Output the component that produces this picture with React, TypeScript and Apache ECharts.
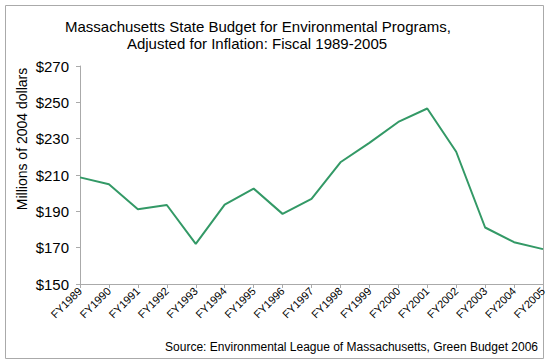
import React, { useEffect, useRef } from "react";
import * as echarts from "echarts";

const categories = [
  "FY1989", "FY1990", "FY1991", "FY1992", "FY1993", "FY1994", "FY1995", "FY1996", "FY1997",
  "FY1998", "FY1999", "FY2000", "FY2001", "FY2002", "FY2003", "FY2004", "FY2005",
];
const budget = [
  208.7, 204.9, 191.2, 193.5, 172.1, 193.7, 202.5, 188.6, 196.8,
  217.0, 227.7, 239.2, 246.6, 222.8, 181.1, 173.0, 169.2,
];
const yTicks = { min: 150, max: 270, interval: 20 };
const titleLines = [
  "Massachusetts State Budget for Environmental Programs,",
  "Adjusted for Inflation: Fiscal 1989-2005",
];
const yName = "Millions of 2004 dollars";
const sourceText = "Source: Environmental League of Massachusetts, Green Budget 2006";

const FONT = "Arial, 'Liberation Sans', sans-serif";

export default function App() {
  const ref = useRef<HTMLDivElement>(null);
  useEffect(() => {
    if (!ref.current) return;
    const chart = echarts.init(ref.current, null, { renderer: "svg" });
    chart.setOption({
      animation: false,
      backgroundColor: "#ffffff",
      grid: { left: 80, right: 7, top: 66, bottom: 78, containLabel: false },
      xAxis: {
        type: "category",
        data: categories,
        boundaryGap: false,
        axisLine: { show: true, lineStyle: { color: "#aaaaaa", width: 1 } },
        axisTick: { show: true, length: 4, lineStyle: { color: "#aaaaaa" } },
        axisLabel: {
          rotate: 45,
          interval: 0,
          margin: 5,
          color: "#000000",
          fontSize: 11,
          fontFamily: FONT,
        },
        splitLine: { show: false },
      },
      yAxis: {
        type: "value",
        min: yTicks.min,
        max: yTicks.max,
        interval: yTicks.interval,
        axisLine: { show: true, lineStyle: { color: "#aaaaaa", width: 1 } },
        axisTick: { show: true, length: 4, lineStyle: { color: "#aaaaaa" } },
        axisLabel: {
          formatter: (v: number) => "$" + v,
          color: "#000000",
          fontSize: 15,
          fontFamily: FONT,
          margin: 11,
        },
        splitLine: { show: false },
      },
      series: [
        {
          type: "line",
          data: budget,
          symbol: "none",
          lineStyle: { color: "#339966", width: 2 },
          itemStyle: { color: "#339966" },
        },
      ],
      graphic: [
        {
          type: "rect",
          shape: { x: 5.5, y: 5.5, width: 538, height: 353 },
          style: { fill: "none", stroke: "#aaaaaa", lineWidth: 1 },
          silent: true,
        },
        {
          type: "text",
          x: 258,
          y: 26,
          style: {
            text: titleLines[0],
            textAlign: "center",
            textVerticalAlign: "middle",
            font: `15px ${FONT}`,
            fill: "#000000",
          },
        },
        {
          type: "text",
          x: 257,
          y: 43,
          style: {
            text: titleLines[1],
            textAlign: "center",
            textVerticalAlign: "middle",
            font: `15px ${FONT}`,
            fill: "#000000",
          },
        },
        {
          type: "text",
          x: 22,
          y: 139,
          rotation: Math.PI / 2,
          style: {
            text: yName,
            textAlign: "center",
            textVerticalAlign: "middle",
            font: `14px ${FONT}`,
            fill: "#000000",
          },
        },
        {
          type: "text",
          x: 538,
          y: 347,
          style: {
            text: sourceText,
            textAlign: "right",
            textVerticalAlign: "middle",
            font: `12px ${FONT}`,
            fill: "#000000",
          },
        },
      ],
    });
    return () => chart.dispose();
  }, []);
  return (
    <div
      ref={ref}
      style={{ position: "fixed", left: 0, top: 0, width: 550, height: 362 }}
    />
  );
}
